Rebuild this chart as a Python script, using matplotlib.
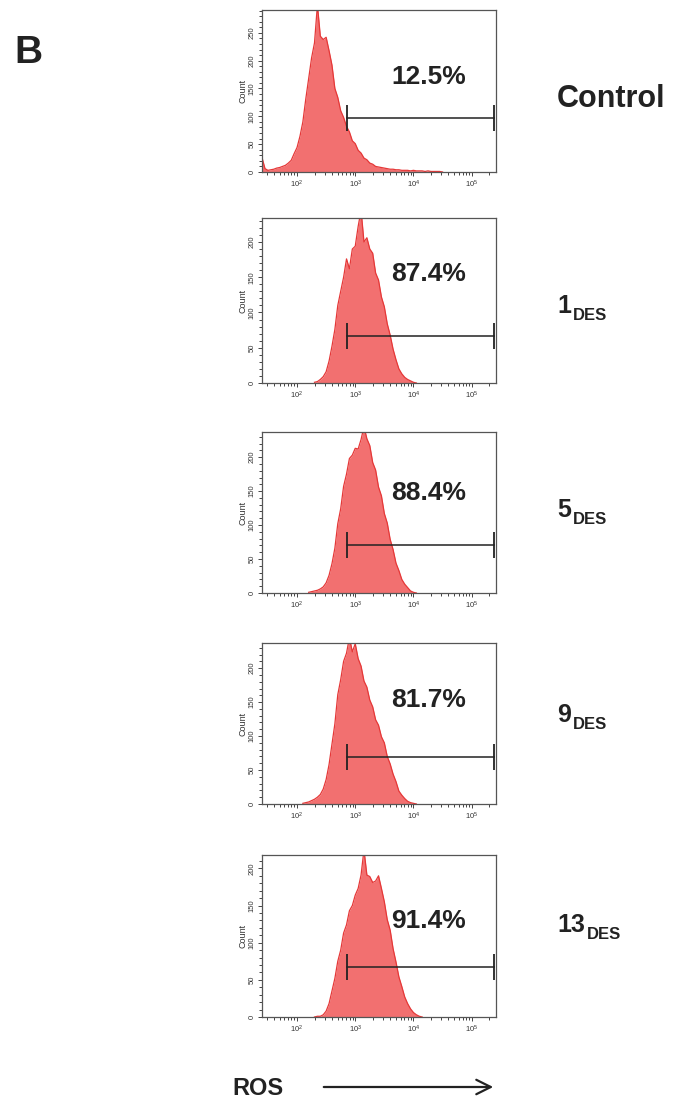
import numpy as np
import matplotlib
matplotlib.use("Agg")
import matplotlib.pyplot as plt
from matplotlib.ticker import LogLocator, MultipleLocator, NullFormatter

plt.rcParams['font.family'] = ['Liberation Sans', 'DejaVu Sans']

# histogram counts, sampled every 0.05 decade of ROS intensity starting at 10**start
ctrl_start = 1.40
ctrl_counts = [25, 6, 3, 4, 5, 7, 8, 10, 12, 16, 21, 33, 44, 64, 90, 131, 168, 205,
               232, 300, 244, 238, 242, 218, 192, 150, 134, 110, 98, 82, 72, 56,
               51, 39, 34, 25, 22, 16, 14, 10, 9, 8, 7, 6, 5, 5, 4, 4, 3, 3, 3, 2,
               3, 2, 2, 2, 1, 2, 1, 1, 1, 1, 0]

des1_start = 2.30
des1_counts = [1, 2, 5, 9, 16, 31, 52, 76, 110, 130, 150, 176, 162, 190, 194, 222,
               245, 200, 206, 190, 184, 156, 146, 122, 108, 84, 68, 48, 33, 20,
               13, 8, 5, 3, 1, 0]

des5_start = 2.20
des5_counts = [1, 2, 3, 4, 6, 9, 15, 26, 43, 66, 102, 124, 157, 175, 198, 203, 213,
               212, 226, 245, 227, 217, 192, 181, 156, 143, 117, 103, 79, 64, 44,
               33, 20, 13, 8, 3, 1, 0]

des9_start = 2.10
des9_counts = [1, 2, 3, 5, 7, 10, 14, 22, 36, 58, 88, 118, 161, 183, 210, 222, 245,
               224, 236, 214, 203, 181, 172, 153, 143, 124, 116, 99, 90, 70, 59,
               44, 33, 19, 13, 8, 4, 2, 1, 0]

des13_start = 2.30
des13_counts = [0, 1, 1, 3, 8, 18, 35, 52, 75, 90, 113, 124, 143, 150, 164, 173,
                191, 225, 191, 189, 181, 183, 190, 173, 155, 131, 117, 92, 74, 54,
                41, 27, 18, 11, 6, 3, 1, 0]

starts = [ctrl_start, des1_start, des5_start, des9_start, des13_start]
counts = [ctrl_counts, des1_counts, des5_counts, des9_counts, des13_counts]
percents = ['12.5%', '87.4%', '88.4%', '81.7%', '91.4%']
groups = ['Control', '1', '5', '9', '13']
ymax = [291, 234, 237, 237, 218]
gate_lo, gate_hi = 730, 245000
gate_y = [97, 67, 71, 69, 67]

W, H = 673, 1109
fig = plt.figure(figsize=(W / 100, H / 100), dpi=100)

# panel boxes in pixels: top, bottom
boxes = [(10, 172), (218, 383), (432, 593), (643, 804), (855, 1017)]
left, right = 262, 496
pct_y = [77, 274, 493, 700, 921]
lab_y = [107, 313, 517, 722, 932]

fill_c = '#f27070'
edge_c = '#e53838'
dark = '#222222'

for i in range(5):
    top, bot = boxes[i]
    ax = fig.add_axes([left / W, 1 - bot / H, (right - left) / W, (bot - top) / H])
    x = 10 ** (starts[i] + 0.05 * np.arange(len(counts[i])))
    ax.fill_between(x, counts[i], color=fill_c, lw=0)
    ax.plot(x, counts[i], color=edge_c, lw=0.9)
    ax.set_xscale('log')
    ax.set_xlim(25, 262144)
    ax.set_ylim(0, ymax[i])
    ax.set_xticks([1e2, 1e3, 1e4, 1e5])
    ax.xaxis.set_minor_locator(LogLocator(base=10, subs=np.arange(2, 10), numticks=20))
    ax.xaxis.set_minor_formatter(NullFormatter())
    ax.yaxis.set_major_locator(MultipleLocator(50))
    ax.yaxis.set_minor_locator(MultipleLocator(10))
    ax.tick_params(which='both', direction='out', color='#444444', width=0.7,
                   labelsize=5.5, labelcolor='#333333', pad=1.5)
    ax.tick_params(which='major', length=3.2)
    ax.tick_params(which='minor', length=2)
    for lab in ax.get_yticklabels():
        lab.set_rotation(90)
        lab.set_va('center')
    ax.set_ylabel('Count', fontsize=6.5, color='#333333', labelpad=1)
    for s in ax.spines.values():
        s.set_color('#555555')
        s.set_linewidth(0.9)
    # gate marker
    ax.plot([gate_lo, gate_hi], [gate_y[i], gate_y[i]], color=dark, lw=1.1)
    ax.plot([gate_lo, gate_hi], [gate_y[i], gate_y[i]], ls='none', marker='|',
            markersize=19, markeredgewidth=1.3, color=dark)

# overlay in pixel coordinates for the labels
ov = fig.add_axes([0, 0, 1, 1])
ov.set_xlim(0, W)
ov.set_ylim(H, 0)
ov.axis('off')

for i in range(5):
    ov.text(429, pct_y[i], percents[i], fontsize=19, fontweight='bold', color=dark,
            ha='center', va='center')
    if i == 0:
        ov.text(557, lab_y[i], groups[i], fontsize=22, fontweight='bold', color=dark,
                ha='left', va='baseline')
    else:
        t = ov.text(557, lab_y[i], groups[i], fontsize=18, fontweight='bold',
                    color=dark, ha='left', va='baseline')
        fig.canvas.draw()
        xr = t.get_window_extent().x1  # right edge in pixels
        ov.text(xr + 1.5, lab_y[i] + 7, 'DES', fontsize=12, fontweight='bold',
                color=dark, ha='left', va='baseline')

ov.text(14, 63, 'B', fontsize=28, fontweight='bold', color=dark, ha='left',
        va='baseline')
ov.text(232, 1095, 'ROS', fontsize=17, fontweight='bold', color=dark, ha='left',
        va='baseline')
ov.annotate('', xy=(496, 1087), xytext=(321, 1087),
            arrowprops=dict(arrowstyle='->', color=dark, lw=1.6,
                            mutation_scale=26))

fig.savefig('out.png', dpi=100)
